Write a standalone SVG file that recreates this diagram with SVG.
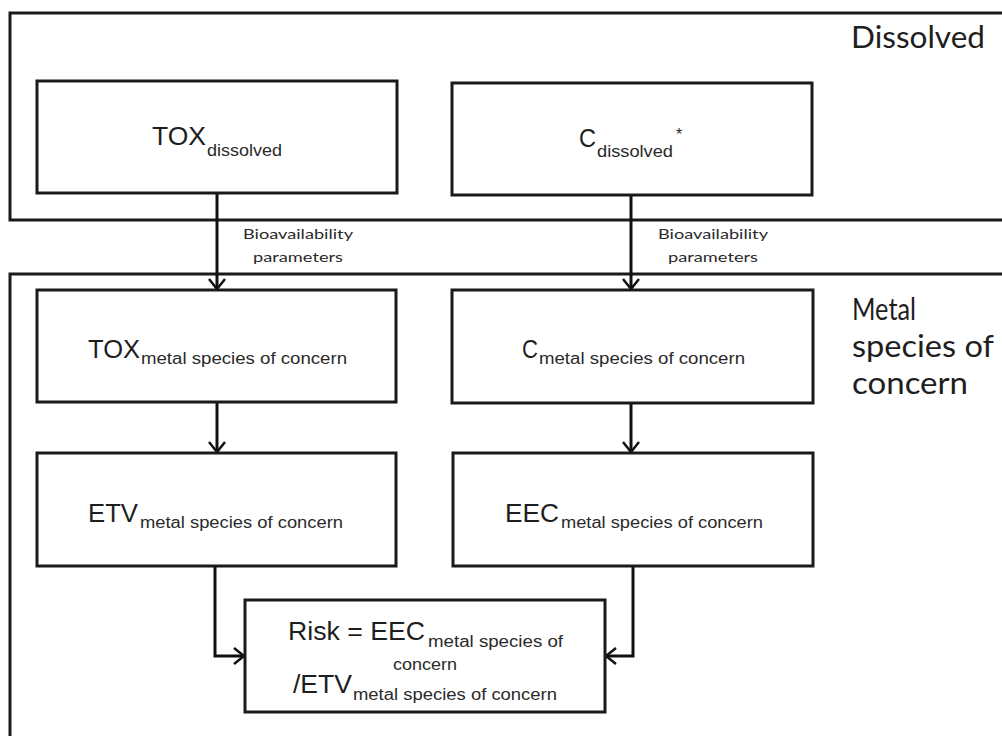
<svg xmlns="http://www.w3.org/2000/svg" width="1002" height="736" viewBox="0 0 1002 736">
  <style>
    .panel { fill: none; stroke: #1a1a1a; stroke-width: 3; }
    .box { fill: #ffffff; stroke: #1a1a1a; stroke-width: 3; }
    .main { font-family: "Liberation Sans", Arial, sans-serif; font-size: 26px; fill: #1e1e1e; }
    .sub { font-family: "Liberation Sans", Arial, sans-serif; font-size: 16px; fill: #2a2a2a; }
    .panel-label { font-family: Lato, "Open Sans", sans-serif; font-size: 30px; fill: #1e1e1e; }
    .edge-label { font-family: Lato, "Open Sans", sans-serif; font-size: 14px; fill: #2a2a2a; }
    .link { fill: none; stroke: #111111; stroke-width: 3; }
  </style>
  <defs>
    <marker id="chevron" markerUnits="userSpaceOnUse" markerWidth="24" markerHeight="24" viewBox="-12 -12 24 24" refX="0" refY="0" orient="auto">
      <path d="M-10,-8 L0,0 L-10,8" fill="none" stroke="#111111" stroke-width="2.5"/>
    </marker>
  </defs>

  <rect width="1002" height="736" fill="#ffffff"/>

  <!-- Compartment panels -->
  <g id="panel-dissolved">
    <rect class="panel" x="10" y="13" width="1000" height="207"/>
    <text class="panel-label" x="851" y="48" textLength="134" lengthAdjust="spacingAndGlyphs">Dissolved</text>
  </g>
  <g id="panel-metal-species">
    <rect class="panel" x="10" y="274" width="1000" height="480"/>
    <text class="panel-label" x="852" y="320" textLength="64" lengthAdjust="spacingAndGlyphs">Metal</text>
    <text class="panel-label" x="852" y="357" textLength="142" lengthAdjust="spacingAndGlyphs">species of</text>
    <text class="panel-label" x="852" y="394" textLength="116" lengthAdjust="spacingAndGlyphs">concern</text>
  </g>

  <!-- Connectors -->
  <g id="connectors">
    <line class="link" x1="217" y1="193" x2="217" y2="289" marker-end="url(#chevron)"/>
    <line class="link" x1="631" y1="195" x2="631" y2="289" marker-end="url(#chevron)"/>
    <line class="link" x1="217" y1="402" x2="217" y2="452" marker-end="url(#chevron)"/>
    <line class="link" x1="631" y1="403" x2="631" y2="452" marker-end="url(#chevron)"/>
    <polyline class="link" points="215,566 215,656 244,656" marker-end="url(#chevron)"/>
    <polyline class="link" points="633,566 633,656 606,656" marker-end="url(#chevron)"/>
    <text class="edge-label" x="243" y="239" textLength="110" lengthAdjust="spacingAndGlyphs">Bioavailability</text>
    <text class="edge-label" x="253" y="262" textLength="90" lengthAdjust="spacingAndGlyphs">parameters</text>
    <text class="edge-label" x="658" y="239" textLength="110" lengthAdjust="spacingAndGlyphs">Bioavailability</text>
    <text class="edge-label" x="668" y="262" textLength="90" lengthAdjust="spacingAndGlyphs">parameters</text>
  </g>

  <!-- Nodes -->
  <g id="tox-dissolved">
    <rect class="box" x="37" y="81" width="360" height="112"/>
    <text class="main" x="152" y="145" textLength="54" lengthAdjust="spacingAndGlyphs">TOX</text>
    <text class="sub" x="207" y="156" textLength="75" lengthAdjust="spacingAndGlyphs">dissolved</text>
  </g>
  <g id="c-dissolved">
    <rect class="box" x="452" y="83" width="360" height="112"/>
    <text class="main" x="579" y="147" textLength="17" lengthAdjust="spacingAndGlyphs">C</text>
    <text class="sub" x="597" y="157" textLength="76" lengthAdjust="spacingAndGlyphs">dissolved</text>
    <text class="sub" x="676" y="140">*</text>
  </g>
  <g id="tox-metal-species">
    <rect class="box" x="37" y="290" width="359" height="112"/>
    <text class="main" x="88" y="358" textLength="52" lengthAdjust="spacingAndGlyphs">TOX</text>
    <text class="sub" x="141" y="364" textLength="206" lengthAdjust="spacingAndGlyphs">metal species of concern</text>
  </g>
  <g id="c-metal-species">
    <rect class="box" x="452" y="290" width="361" height="113"/>
    <text class="main" x="522" y="358" textLength="16" lengthAdjust="spacingAndGlyphs">C</text>
    <text class="sub" x="539" y="364" textLength="206" lengthAdjust="spacingAndGlyphs">metal species of concern</text>
  </g>
  <g id="etv-metal-species">
    <rect class="box" x="37" y="453" width="359" height="113"/>
    <text class="main" x="88" y="522" textLength="50" lengthAdjust="spacingAndGlyphs">ETV</text>
    <text class="sub" x="140" y="528" textLength="203" lengthAdjust="spacingAndGlyphs">metal species of concern</text>
  </g>
  <g id="eec-metal-species">
    <rect class="box" x="453" y="453" width="360" height="113"/>
    <text class="main" x="505" y="522" textLength="54" lengthAdjust="spacingAndGlyphs">EEC</text>
    <text class="sub" x="561" y="528" textLength="202" lengthAdjust="spacingAndGlyphs">metal species of concern</text>
  </g>
  <g id="risk">
    <rect class="box" x="245" y="600" width="360" height="112"/>
    <text class="main" x="288" y="640" textLength="137" lengthAdjust="spacingAndGlyphs">Risk = EEC</text>
    <text class="sub" x="428" y="647" textLength="135" lengthAdjust="spacingAndGlyphs">metal species of</text>
    <text class="sub" x="425" y="670" text-anchor="middle" textLength="64" lengthAdjust="spacingAndGlyphs">concern</text>
    <text class="main" x="293" y="693" textLength="59" lengthAdjust="spacingAndGlyphs">/ETV</text>
    <text class="sub" x="353" y="700" textLength="204" lengthAdjust="spacingAndGlyphs">metal species of concern</text>
  </g>
</svg>
